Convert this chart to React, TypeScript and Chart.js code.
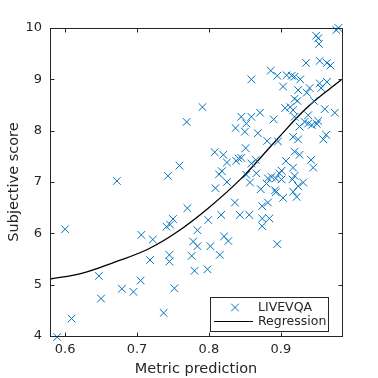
import React, { useEffect, useRef } from "react";
import { Chart, registerables } from "chart.js";

Chart.register(...registerables);

const metricPred = [
  0.589, 0.6, 0.609, 0.647, 0.65, 0.672, 0.679, 0.695, 0.705, 0.706, 0.718, 0.722,
  0.737, 0.741, 0.746, 0.743, 0.745, 0.745, 0.75, 0.752, 0.759, 0.769, 0.77, 0.776,
  0.778, 0.78, 0.784, 0.784, 0.791, 0.798, 0.799, 0.802, 0.808, 0.809, 0.814, 0.815,
  0.817, 0.818, 0.82, 0.821, 0.825, 0.825, 0.827, 0.836, 0.837, 0.838, 0.841, 0.843,
  0.845, 0.845, 0.85, 0.852, 0.851, 0.852, 0.856, 0.857, 0.859, 0.859, 0.859, 0.865,
  0.866, 0.868, 0.871, 0.872, 0.874, 0.874, 0.874, 0.881, 0.88, 0.882, 0.882, 0.884,
  0.886, 0.887, 0.89, 0.892, 0.893, 0.893, 0.895, 0.895, 0.896, 0.898, 0.901, 0.901,
  0.903, 0.903, 0.906, 0.907, 0.908, 0.913, 0.915, 0.916, 0.917, 0.917, 0.917, 0.917,
  0.919, 0.919, 0.919, 0.919, 0.919, 0.922, 0.923, 0.924, 0.924, 0.924, 0.926, 0.926,
  0.927, 0.931, 0.933, 0.935, 0.936, 0.938, 0.938, 0.94, 0.942, 0.943, 0.945, 0.946,
  0.949, 0.95, 0.952, 0.952, 0.953, 0.954, 0.954, 0.956, 0.959, 0.961, 0.963, 0.964,
  0.964, 0.969, 0.975, 0.977, 0.98,
];

const subjScore = [
  3.98, 6.08, 4.34, 5.17, 4.73, 7.02, 4.92, 4.86, 5.08, 5.97, 5.48, 5.88,
  4.45, 6.13, 6.17, 7.12, 5.58, 5.45, 6.28, 4.93, 7.32, 8.17, 6.49, 5.56,
  5.84, 5.27, 6.06, 5.75, 8.46, 5.3, 6.26, 5.75, 7.58, 6.88, 7.15, 5.58,
  6.36, 7.21, 7.53, 5.94, 7.38, 7.0, 5.85, 6.6, 8.05, 7.41, 7.46, 6.36,
  8.27, 7.47, 7.98, 8.14, 7.66, 7.14, 6.36, 6.99, 9.0, 8.27, 7.36, 7.43,
  7.17, 7.95, 8.35, 6.86, 6.53, 6.29, 6.14, 7.8, 6.97, 7.07, 6.6, 6.29,
  9.17, 7.1, 8.22, 6.84, 6.8, 7.07, 9.07, 5.79, 7.79, 7.17, 7.22, 7.05,
  8.86, 6.69, 8.44, 7.41, 9.08, 8.46, 9.07, 7.05, 8.4, 7.88, 7.28, 6.81,
  9.05, 8.62, 8.27, 7.59, 7.12, 6.71, 8.58, 8.79, 7.83, 6.92, 8.08, 7.53,
  9.0, 6.99, 8.17, 9.32, 8.74, 8.3, 8.14, 8.83, 7.43, 8.11, 7.28, 8.58,
  9.85, 8.13, 9.8, 8.19, 9.69, 9.36, 8.92, 8.83, 7.83, 8.42, 7.92, 9.32,
  8.95, 9.27, 8.35, 9.96, 10.0,
];

const regX = [0.579, 0.623, 0.669, 0.715, 0.754, 0.799, 0.845, 0.892, 0.938, 0.984];
const regY = [5.11, 5.22, 5.44, 5.69, 6.01, 6.49, 7.07, 7.79, 8.47, 8.99];

const xTicks = [0.6, 0.7, 0.8, 0.9];
const yTicks = [4, 5, 6, 7, 8, 9, 10];

const seriesLabels = ["LIVEVQA", "Regression"];
const xTitle = "Metric prediction";
const yTitle = "Subjective score";

const BLUE = "#0072BD";
const AX = "#262626";
const FONT = "'DejaVu Sans', sans-serif";

function drawCross(ctx: CanvasRenderingContext2D, x: number, y: number, r: number) {
  ctx.beginPath();
  ctx.moveTo(x - r, y - r);
  ctx.lineTo(x + r, y + r);
  ctx.moveTo(x - r, y + r);
  ctx.lineTo(x + r, y - r);
  ctx.stroke();
}

const boxPlugin = {
  id: "boxPlugin",
  afterDraw(chart: any) {
    const ctx = chart.ctx as CanvasRenderingContext2D;
    const { left, right, top, bottom } = chart.chartArea;
    const xs = chart.scales.x;
    const ys = chart.scales.y;
    ctx.save();
    ctx.strokeStyle = AX;
    ctx.lineWidth = 1;
    const L = Math.round(left) + 0.5;
    const R = Math.round(right) + 0.5;
    const T = Math.round(top) + 0.5;
    const B = Math.round(bottom) + 0.5;
    ctx.strokeRect(L, T, R - L, B - T);
    const tl = 4;
    ctx.beginPath();
    for (const v of xTicks) {
      const px = Math.round(xs.getPixelForValue(v)) + 0.5;
      ctx.moveTo(px, B);
      ctx.lineTo(px, B - tl);
      ctx.moveTo(px, T);
      ctx.lineTo(px, T + tl);
    }
    for (const v of yTicks) {
      const py = Math.round(ys.getPixelForValue(v)) + 0.5;
      ctx.moveTo(L, py);
      ctx.lineTo(L + tl, py);
      ctx.moveTo(R, py);
      ctx.lineTo(R - tl, py);
    }
    ctx.stroke();

    // legend
    const lx = 210.5, ly = 297.5, lw = 118, lh = 34;
    ctx.fillStyle = "#ffffff";
    ctx.fillRect(lx, ly, lw, lh);
    ctx.strokeStyle = AX;
    ctx.strokeRect(lx, ly, lw, lh);
    ctx.strokeStyle = BLUE;
    ctx.lineWidth = 1;
    drawCross(ctx, 235, 307.5, 3.8);
    ctx.strokeStyle = "#000000";
    ctx.lineWidth = 1.2;
    ctx.beginPath();
    ctx.moveTo(214, 321.5);
    ctx.lineTo(253, 321.5);
    ctx.stroke();
    ctx.fillStyle = AX;
    ctx.font = `12.5px ${FONT}`;
    ctx.textAlign = "left";
    ctx.textBaseline = "middle";
    ctx.fillText(seriesLabels[0], 258, 307.5);
    ctx.fillText(seriesLabels[1], 258, 321.5);
    ctx.restore();
  },
};

export default function App() {
  const ref = useRef<HTMLCanvasElement | null>(null);
  useEffect(() => {
    if (!ref.current) return;
    const scatterData = metricPred.map((x, i) => ({ x, y: subjScore[i] }));
    const regData = regX.map((x, i) => ({ x, y: regY[i] }));
    const chart = new Chart(ref.current, {
      type: "scatter",
      data: {
        datasets: [
          {
            label: seriesLabels[0],
            data: scatterData,
            pointStyle: "crossRot",
            pointRadius: 5.4,
            pointHoverRadius: 5.4,
            borderColor: BLUE,
            backgroundColor: BLUE,
            pointBorderWidth: 1,
            borderWidth: 1,
            clip: false as any,
          },
          {
            label: seriesLabels[1],
            type: "line",
            data: regData,
            borderColor: "#000000",
            borderWidth: 1.3,
            pointRadius: 0,
            showLine: true,
            fill: false,
            tension: 0.4,
          } as any,
        ],
      },
      options: {
        responsive: false,
        animation: false,
        events: [],
        layout: { padding: { left: 0, top: 28, right: 36, bottom: 0 } },
        plugins: { legend: { display: false }, tooltip: { enabled: false } },
        scales: {
          x: {
            type: "linear",
            min: 0.579,
            max: 0.985,
            afterBuildTicks: (s: any) => {
              s.ticks = xTicks.map((v) => ({ value: v }));
            },
            afterFit: (s: any) => {
              s.height = 42;
            },
            ticks: {
              callback: (v: any) => Number(v).toFixed(1),
              font: { family: FONT, size: 13 },
              color: AX,
              padding: 6,
              maxRotation: 0,
            },
            grid: { display: true, drawOnChartArea: false, drawTicks: false },
            border: { display: false },
            title: {
              display: true,
              text: xTitle,
              font: { family: FONT, size: 14.5 },
              color: AX,
              padding: { top: 0, bottom: 0 },
            },
          },
          y: {
            type: "linear",
            min: 4,
            max: 10,
            afterBuildTicks: (s: any) => {
              s.ticks = yTicks.map((v) => ({ value: v }));
            },
            afterFit: (s: any) => {
              s.width = 50;
            },
            ticks: {
              callback: (v: any) => String(v),
              font: { family: FONT, size: 13 },
              color: AX,
              padding: 8,
            },
            grid: { display: true, drawOnChartArea: false, drawTicks: false },
            border: { display: false },
            title: {
              display: true,
              text: yTitle,
              font: { family: FONT, size: 14.5 },
              color: AX,
              padding: { top: 6, bottom: 0 },
            },
          },
        },
      },
      plugins: [boxPlugin],
    });
    return () => chart.destroy();
  }, []);
  return (
    <div style={{ position: "absolute", left: 0, top: 0, width: 378, height: 378, background: "#fff" }}>
      <canvas ref={ref} width={378} height={378} style={{ width: 378, height: 378 }} />
    </div>
  );
}
